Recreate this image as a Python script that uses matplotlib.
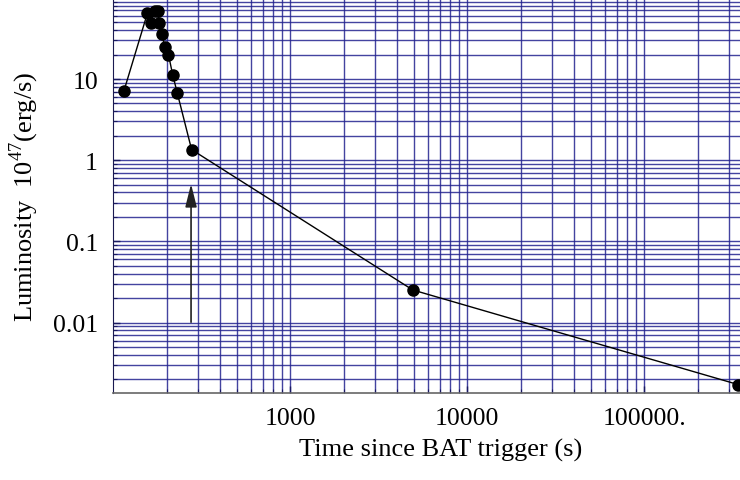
"""Luminosity light curve after the BAT trigger, log-log with dense grid."""

import matplotlib
matplotlib.use("Agg")
import matplotlib.pyplot as plt
from matplotlib.ticker import LogLocator, NullFormatter

# time since trigger (s) and luminosity (1e47 erg/s)
time_s = [115, 156, 163, 171, 178, 182, 187.5, 196, 205, 216.5, 230, 277, 4920, 340000]
lum = [7.2, 65, 49, 68, 69, 49, 36, 24.6, 19.9, 11.3, 6.7, 1.35, 0.0252, 0.00172]

x_ticks = [1000, 10000, 100000]
x_tick_labels = ["1000", "10000", "100000."]
y_ticks = [10, 1, 0.1, 0.01]
y_tick_labels = ["10", "1", "0.1", "0.01"]

arrow_x = 275
arrow_from, arrow_to = 0.0101, 0.51

plt.rcParams["font.family"] = ["Liberation Serif", "DejaVu Serif"]
plt.rcParams["mathtext.fontset"] = "custom"
plt.rcParams["mathtext.rm"] = "Liberation Serif"

grid_col = "#23238f"

fig = plt.figure(figsize=(7.4, 4.81), dpi=100)
ax = fig.add_axes([0.1531, 0.180, 0.8469, 0.820])

ax.set_xscale("log")
ax.set_yscale("log")
ax.set_xlim(100, 347500)
ax.set_ylim(0.00134, 96.7)

ax.xaxis.set_minor_locator(LogLocator(base=10, subs=range(2, 10), numticks=20))
ax.yaxis.set_minor_locator(LogLocator(base=10, subs=range(2, 10), numticks=20))
ax.xaxis.set_minor_formatter(NullFormatter())
ax.yaxis.set_minor_formatter(NullFormatter())

ax.grid(True, which="both", color=grid_col, linewidth=1.0, alpha=0.85)
ax.set_axisbelow(True)

ax.plot(time_s, lum, color="black", linewidth=1.0, marker="o", markersize=8,
        clip_on=False, zorder=3)

ax.annotate("", xy=(arrow_x, arrow_to), xytext=(arrow_x, arrow_from),
            arrowprops=dict(arrowstyle="-|>,head_length=1.4,head_width=0.35",
                            color="#222222", lw=1.2, mutation_scale=10,
                            shrinkA=0, shrinkB=0),
            zorder=4)

ax.set_xticks(x_ticks)
ax.set_xticklabels(x_tick_labels)
ax.set_yticks(y_ticks)
ax.set_yticklabels(y_tick_labels)

ax.tick_params(which="both", direction="in", labelsize=18.5, colors="#1a1a60",
               labelcolor="black")
ax.tick_params(which="major", length=5, width=1)
ax.tick_params(which="minor", length=3, width=0.8)
ax.tick_params(axis="x", pad=10)
ax.tick_params(axis="y", pad=11)

for side in ("top", "right"):
    ax.spines[side].set_visible(False)
ax.spines["left"].set_color("#1a1a50")
ax.spines["bottom"].set_color("#666666")
ax.spines["bottom"].set_linewidth(1.2)

ax.set_xlabel("Time since BAT trigger (s)", fontsize=19)
ax.set_ylabel(r"Luminosity  $10^{47}$(erg/s)", fontsize=19)
ax.xaxis.set_label_coords(0.523, -0.112)
ax.yaxis.set_label_coords(-0.115, 0.5)

fig.savefig("out.png", dpi=100)
